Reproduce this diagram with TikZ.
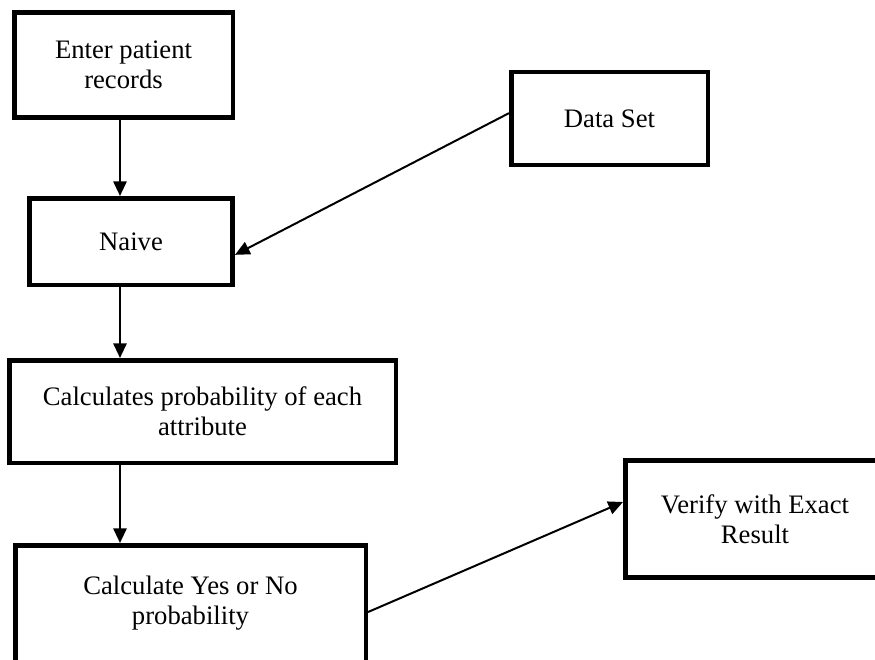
\documentclass[tikz,border=0pt]{standalone}
\usepackage{fontspec}
\setmainfont{Liberation Serif}
\usetikzlibrary{arrows.meta}
\begin{document}
\begin{tikzpicture}[x=0.75pt,y=-0.75pt,
  box/.style={draw=black,line width=3.4pt,rectangle,inner sep=0pt,align=center,
    font=\fontsize{20}{22.5}\selectfont},
  arr/.style={draw=black,line width=1.5pt,-{Triangle[length=11pt,width=10pt]}}]
\useasboundingbox (0,0) rectangle (875,660);
\clip (0,0) rectangle (875,660);
\coordinate (col) at (120,0);
\node[box,minimum width=163.9pt,minimum height=79.1pt] (enter) at (123.5,65) {Enter patient\\records};
\node[box,minimum width=152.6pt,minimum height=64.9pt] (naive) at (131,241.5) {Naive};
\node[box,minimum width=147.4pt,minimum height=69.4pt] (data) at (609.5,118.5) {Data Set};
\node[box,minimum width=289.9pt,minimum height=76.9pt] (calcs) at (202.5,411.5) {Calculates probability of each\\attribute};
\node[box,minimum width=262.9pt,minimum height=87.4pt] (yesno) at (190.5,603.5) {Calculate Yes or No\\probability};
\node[box,minimum width=194.6pt,minimum height=88.1pt] (verify) at (755,519) {Verify with Exact\\Result};
\draw[arr] (enter.south -| col) -- (naive.north -| col);
\draw[arr] (naive.south -| col) -- (calcs.north -| col);
\draw[arr] (calcs.south -| col) -- (yesno.north -| col);
\draw[arr] ([yshift=4pt]data.west) -- ([yshift=-10pt]naive.east);
\draw[arr] ([yshift=-6.4pt]yesno.east) -- ([yshift=12.75pt]verify.west);
\end{tikzpicture}
\end{document}
